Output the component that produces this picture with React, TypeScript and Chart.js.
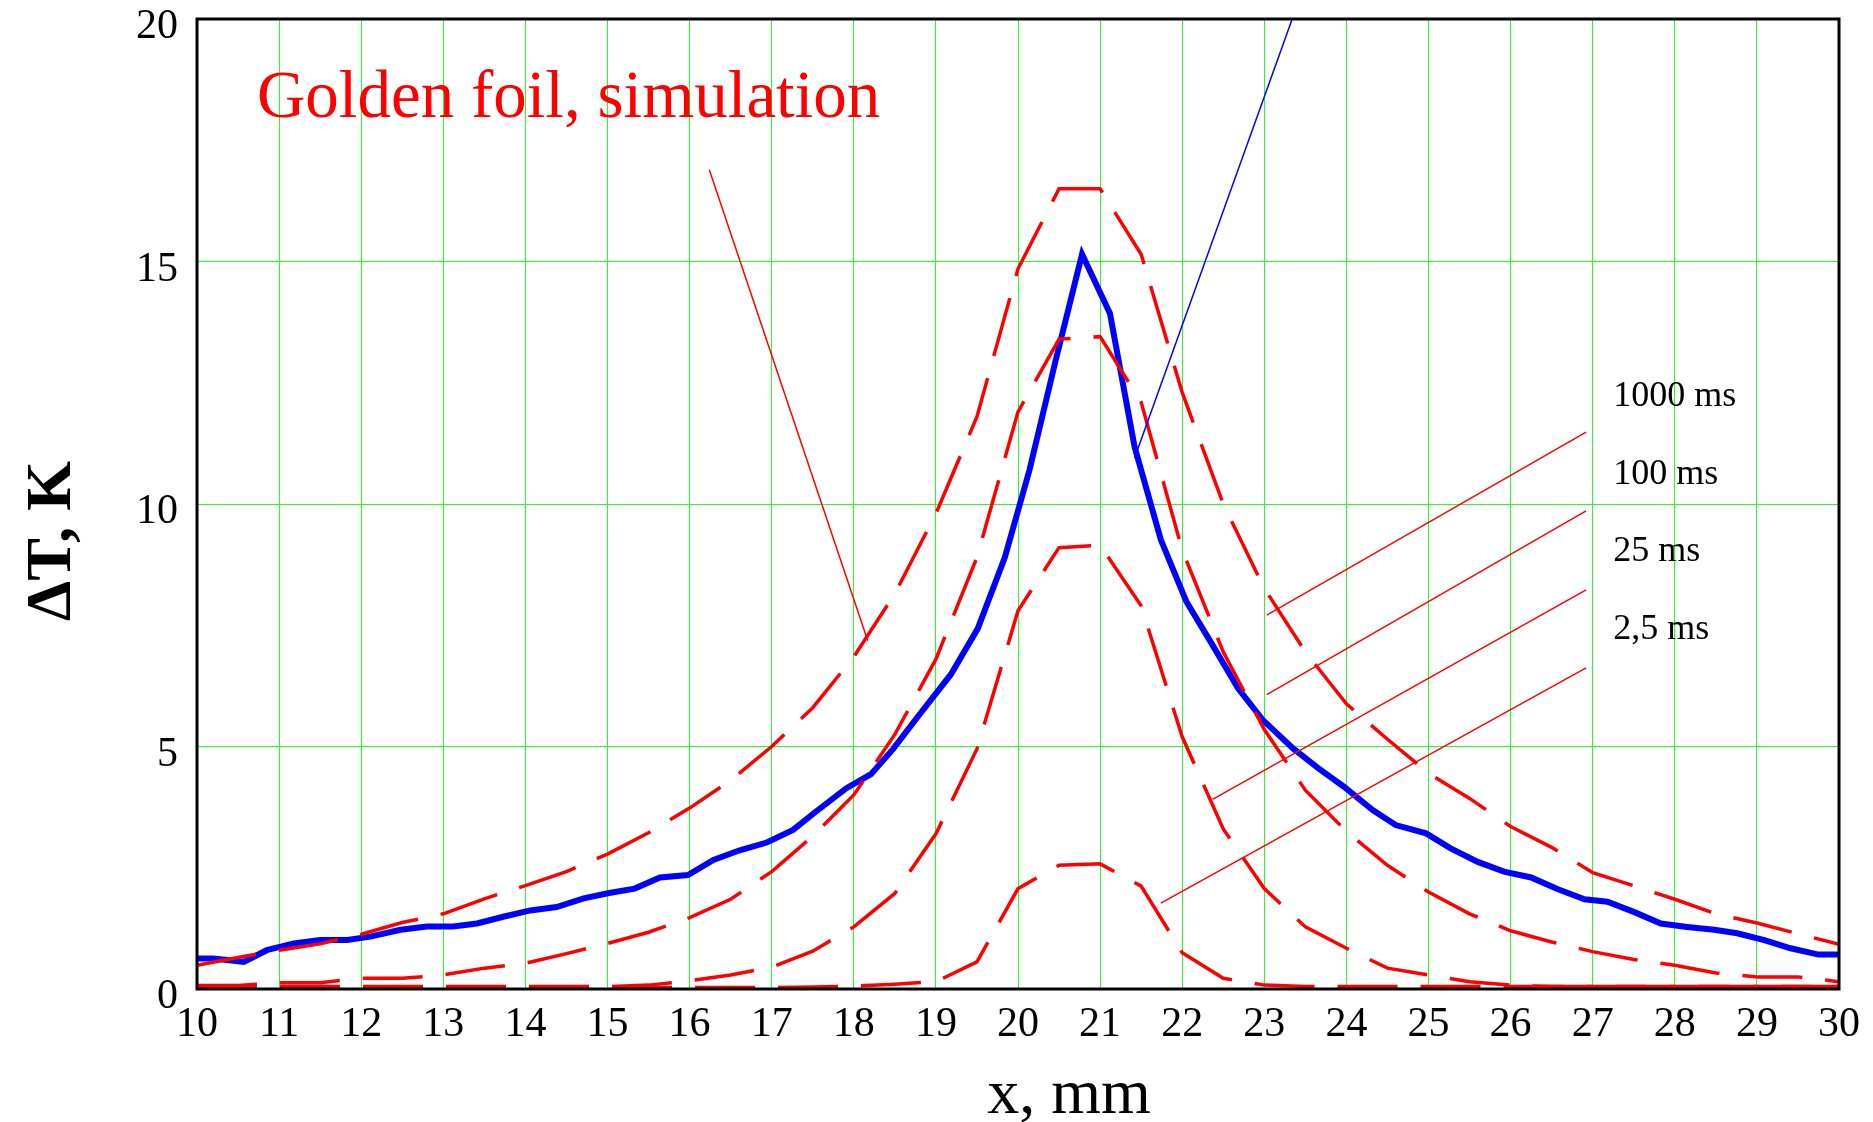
import React, { useEffect, useRef } from "react";
import { Chart, registerables } from "chart.js";

Chart.register(...registerables);

const SERIF = "'Liberation Serif', 'Times New Roman', Times, serif";

// Simulation grid (mm)
const xSim = [10, 10.5, 11, 11.5, 12, 12.5, 13, 13.5, 14, 14.5, 15, 15.5, 16, 16.5, 17, 17.5, 18, 18.5, 19, 19.5, 20, 20.5, 21, 21.5, 22, 22.5, 23, 23.5, 24, 24.5, 25, 25.5, 26, 26.5, 27, 27.5, 28, 28.5, 29, 29.5, 30];

// Simulated ΔT (K) for each exposure
const sim1000 = [0.49, 0.65, 0.80, 0.93, 1.13, 1.37, 1.55, 1.86, 2.13, 2.42, 2.78, 3.22, 3.73, 4.30, 5.00, 5.80, 6.85, 8.15, 9.80, 11.80, 14.85, 16.50, 16.50, 15.15, 12.30, 10.00, 8.26, 6.95, 5.88, 5.15, 4.45, 3.93, 3.35, 2.92, 2.40, 2.13, 1.85, 1.55, 1.36, 1.14, 0.92];
const sim100 = [0.07, 0.07, 0.13, 0.13, 0.22, 0.22, 0.29, 0.43, 0.53, 0.73, 0.94, 1.17, 1.47, 1.85, 2.42, 3.15, 4.00, 5.25, 6.80, 8.90, 11.90, 13.40, 13.45, 12.10, 9.05, 6.95, 5.35, 4.10, 3.25, 2.55, 2.00, 1.55, 1.20, 0.97, 0.77, 0.61, 0.49, 0.33, 0.25, 0.25, 0.15];
const sim25 = [0.05, 0.05, 0.05, 0.05, 0.05, 0.05, 0.05, 0.05, 0.05, 0.05, 0.05, 0.08, 0.17, 0.29, 0.45, 0.78, 1.28, 1.97, 3.20, 4.95, 7.80, 9.10, 9.15, 7.90, 5.20, 3.30, 2.07, 1.28, 0.84, 0.43, 0.29, 0.15, 0.08, 0.05, 0.05, 0.05, 0.05, 0.05, 0.05, 0.05, 0.05];
const sim2_5 = [0.03, 0.03, 0.03, 0.03, 0.03, 0.03, 0.03, 0.03, 0.03, 0.03, 0.03, 0.03, 0.03, 0.03, 0.03, 0.04, 0.06, 0.10, 0.15, 0.56, 2.07, 2.55, 2.58, 2.12, 0.75, 0.22, 0.08, 0.05, 0.05, 0.05, 0.05, 0.05, 0.05, 0.05, 0.05, 0.05, 0.05, 0.05, 0.05, 0.05, 0.05];

// Measured profile (blue)
const xExp = [10.0, 10.2, 10.57, 10.85, 11.18, 11.5, 11.83, 12.11, 12.48, 12.8, 13.12, 13.41, 13.73, 14.06, 14.38, 14.71, 15.02, 15.33, 15.64, 15.98, 16.29, 16.61, 16.94, 17.26, 17.54, 17.91, 18.21, 18.48, 18.8, 19.18, 19.51, 19.84, 20.14, 20.45, 20.78, 21.12, 21.42, 21.74, 22.05, 22.37, 22.68, 22.98, 23.35, 23.66, 23.97, 24.32, 24.6, 24.97, 25.27, 25.6, 25.92, 26.25, 26.57, 26.9, 27.18, 27.5, 27.83, 28.15, 28.48, 28.76, 29.09, 29.41, 29.75, 30.0];
const yExp = [0.63, 0.63, 0.56, 0.80, 0.94, 1.01, 1.01, 1.08, 1.22, 1.29, 1.29, 1.35, 1.49, 1.62, 1.69, 1.87, 1.98, 2.07, 2.30, 2.35, 2.66, 2.86, 3.02, 3.28, 3.66, 4.14, 4.43, 4.95, 5.66, 6.48, 7.43, 8.90, 10.70, 12.90, 15.15, 13.93, 11.18, 9.26, 7.99, 7.09, 6.20, 5.55, 4.96, 4.55, 4.17, 3.69, 3.38, 3.21, 2.90, 2.62, 2.42, 2.30, 2.06, 1.85, 1.80, 1.59, 1.35, 1.28, 1.22, 1.15, 1.01, 0.84, 0.71, 0.71];

// Leader lines (data coordinates)
const msLabels = ["1000 ms", "100 ms", "25 ms", "2,5 ms"];
const leaderX = [[26.92, 23.03], [26.92, 23.03], [26.92, 22.37], [26.92, 21.74]];
const leaderY = [[11.48, 7.71], [9.86, 6.07], [8.23, 3.91], [6.62, 1.77]];
const labelPosX = [27.25, 27.25, 27.25, 27.25];
const labelPosY = [12.02, 10.41, 8.82, 7.22];
const titlePointerX = [16.24, 18.17];
const titlePointerY = [16.89, 7.18];
const expPointerX = [21.42, 23.34];
const expPointerY = [10.95, 20.0];

const titleText = "Golden foil, simulation";
const titlePos = { x: 10.73, y: 17.98 };
const xAxisTitle = "x, mm";
const yAxisTitle = "ΔT, K";

const xTicks = { min: 10, max: 30, step: 1 };
const yTicks = { min: 0, max: 20, step: 5 };

export default function App() {
  const ref = useRef<HTMLCanvasElement>(null);

  useEffect(() => {
    if (!ref.current) return;
    const toPts = (xs: number[], ys: number[]) => xs.map((x, i) => ({ x, y: ys[i] }));
    const dashed = (label: string, ys: number[]) => ({
      label,
      data: toPts(xSim, ys),
      borderColor: "#ff0000",
      borderWidth: 3.5,
      borderDash: [60, 23],
      pointRadius: 0,
      fill: false,
      tension: 0,
      order: 1,
    });
    const thin = (label: string, xs: number[], ys: number[], color: string) => ({
      label,
      data: toPts(xs, ys),
      borderColor: color,
      borderWidth: 1.5,
      pointRadius: 0,
      fill: false,
      tension: 0,
      order: 0,
    });

    const datasets: any[] = [
      dashed("1000 ms", sim1000),
      dashed("100 ms", sim100),
      dashed("25 ms", sim25),
      dashed("2,5 ms", sim2_5),
      {
        label: "experiment",
        data: toPts(xExp, yExp),
        borderColor: "#0000ff",
        borderWidth: 6,
        pointRadius: 0,
        fill: false,
        tension: 0,
        order: 2,
      },
      ...leaderX.map((xs, i) => thin("leader " + msLabels[i], xs, leaderY[i], "#ff0000")),
      thin("title pointer", titlePointerX, titlePointerY, "#ff0000"),
      thin("experiment pointer", expPointerX, expPointerY, "#0000ff"),
    ];

    const annot = {
      id: "annot",
      afterDraw(chart: any) {
        const { ctx, chartArea } = chart;
        const xs = chart.scales.x;
        const ys = chart.scales.y;
        ctx.save();
        // frame
        ctx.strokeStyle = "#000";
        ctx.lineWidth = 3;
        ctx.strokeRect(chartArea.left, chartArea.top, chartArea.right - chartArea.left, chartArea.bottom - chartArea.top);

        // title
        ctx.fillStyle = "#ff0000";
        ctx.font = `67px ${SERIF}`;
        ctx.textAlign = "left";
        ctx.textBaseline = "alphabetic";
        ctx.fillText(titleText, xs.getPixelForValue(titlePos.x), ys.getPixelForValue(titlePos.y));

        // ms labels
        ctx.fillStyle = "#000";
        ctx.font = `36px ${SERIF}`;
        msLabels.forEach((t, i) => {
          ctx.fillText(t, xs.getPixelForValue(labelPosX[i]), ys.getPixelForValue(labelPosY[i]));
        });

        // x axis title
        ctx.font = `64px ${SERIF}`;
        ctx.textAlign = "center";
        ctx.fillText(xAxisTitle, 1069, 1113);

        // y axis title
        ctx.translate(70, 541);
        ctx.rotate(-Math.PI / 2);
        ctx.font = `bold 64px ${SERIF}`;
        ctx.textAlign = "center";
        ctx.fillText(yAxisTitle, 0, 0);
        ctx.restore();
      },
    };

    const chart = new Chart(ref.current, {
      type: "line",
      data: { datasets },
      options: {
        responsive: false,
        devicePixelRatio: 1,
        animation: false,
        parsing: false as any,
        layout: { padding: { left: 0, top: 19, right: 34, bottom: 0 } },
        plugins: { legend: { display: false }, tooltip: { enabled: false }, title: { display: false } },
        scales: {
          x: {
            type: "linear",
            min: xTicks.min,
            max: xTicks.max,
            ticks: {
              stepSize: xTicks.step,
              autoSkip: false,
              maxRotation: 0,
              color: "#000",
              padding: 11,
              font: { family: SERIF, size: 42 },
            },
            grid: { color: "#22ff22", lineWidth: 1, drawTicks: false },
            border: { display: false },
            afterFit(s: any) {
              s.height = 133;
              s.paddingLeft = 0;
              s.paddingRight = 0;
            },
          },
          y: {
            type: "linear",
            min: yTicks.min,
            max: yTicks.max,
            ticks: {
              stepSize: yTicks.step,
              color: "#000",
              padding: 19,
              labelOffset: 8,
              font: { family: SERIF, size: 42 },
            },
            grid: { color: "#22ff22", lineWidth: 1, drawTicks: false },
            border: { display: false },
            afterFit(s: any) {
              s.width = 197;
              s.paddingTop = 0;
              s.paddingBottom = 0;
            },
          },
        },
      } as any,
      plugins: [annot],
    });
    return () => chart.destroy();
  }, []);

  return (
    <div style={{ position: "absolute", left: 0, top: 0, width: 1873, height: 1122, background: "#fff" }}>
      <canvas ref={ref} width={1873} height={1122} style={{ display: "block" }} />
    </div>
  );
}
